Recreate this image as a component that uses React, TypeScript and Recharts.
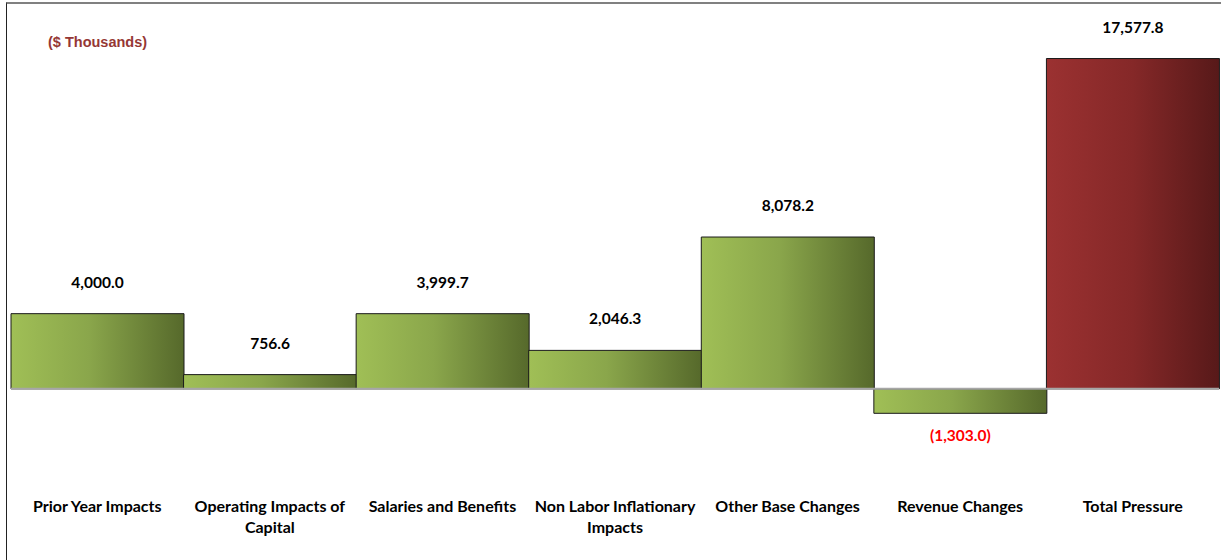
import { BarChart, Bar, XAxis, YAxis, Cell, LabelList, ReferenceLine, Text } from 'recharts'

// Presión presupuestaria por componente ($ miles)

const categories = [
  'Prior Year Impacts',
  'Operating Impacts of Capital',
  'Salaries and Benefits',
  'Non Labor Inflationary Impacts',
  'Other Base Changes',
  'Revenue Changes',
  'Total Pressure',
]
const values = [4000.0, 756.6, 3999.7, 2046.3, 8078.2, -1303.0, 17577.8]
const isTotal = [false, false, false, false, false, false, true]

const data = categories.map((name, i) => ({ name, value: values[i], total: isTotal[i] }))

const fmt = (v: number) => {
  const s = Math.abs(v).toLocaleString('en-US', { minimumFractionDigits: 1, maximumFractionDigits: 1 })
  return v < 0 ? `(${s})` : s
}

const FONT = 'Lato, "Open Sans", sans-serif'

function ValueLabel(props: any) {
  const { x, y, width, height, value } = props
  const top = Math.min(y, y + height)
  const bottom = Math.max(y, y + height)
  const neg = value < 0
  return (
    <text
      x={x + width / 2}
      y={neg ? bottom + 22 : top - 32}
      textAnchor="middle"
      dominantBaseline="central"
      fontFamily={FONT}
      fontWeight={700}
      fontSize={15.5}
      fill={neg ? '#ff0000' : '#000'}
    >
      {fmt(value)}
    </text>
  )
}

function CatTick(props: any) {
  const { x, payload } = props
  return (
    <Text
      x={x}
      y={501}
      width={172}
      textAnchor="middle"
      verticalAnchor="start"
      lineHeight="1.3em"
      fontFamily={FONT}
      fontWeight={700}
      fontSize={16}
      fill="#000"
    >
      {payload.value}
    </Text>
  )
}

export default function App() {
  return (
    <div style={{ position: 'absolute', left: 0, top: 0, width: 1221, height: 560, background: '#fff', overflow: 'hidden' }}>
      <div
        style={{
          position: 'absolute', left: 6, top: 2, width: 1230, height: 570,
          borderTop: '2px solid #808080', borderLeft: '1.5px solid #222', boxSizing: 'border-box',
        }}
      />
      <div
        style={{
          position: 'absolute', left: 48, top: 34, fontFamily: '"Liberation Sans", Arial, sans-serif',
          fontWeight: 700, fontSize: 14.5, color: '#953735',
        }}
      >
        ($ Thousands)
      </div>
      <BarChart
        width={1221}
        height={560}
        data={data}
        margin={{ top: 13, right: 2, left: 11, bottom: 0 }}
        barCategoryGap={0}
        style={{ position: 'absolute', left: 0, top: 0 }}
      >
        <defs>
          <linearGradient id="gradGreen" x1="0" y1="0" x2="1" y2="0">
            <stop offset="0%" stopColor="#a0bf56" />
            <stop offset="45%" stopColor="#8aa64b" />
            <stop offset="100%" stopColor="#56692b" />
          </linearGradient>
          <linearGradient id="gradRed" x1="0" y1="0" x2="1" y2="0">
            <stop offset="0%" stopColor="#9b3131" />
            <stop offset="50%" stopColor="#852828" />
            <stop offset="100%" stopColor="#571919" />
          </linearGradient>
        </defs>
        <XAxis
          dataKey="name"
          height={96}
          axisLine={false}
          tickLine={false}
          tickSize={0}
          tickMargin={0}
          interval={0}
          tick={<CatTick />}
        />
        <YAxis hide domain={[-4000, 20000]} allowDataOverflow />
        <Bar dataKey="value" stroke="#1a1a1a" strokeWidth={1} isAnimationActive={false}>
          {data.map((d, i) => (
            <Cell key={i} fill={d.total ? 'url(#gradRed)' : 'url(#gradGreen)'} />
          ))}
          <LabelList dataKey="value" content={<ValueLabel />} />
        </Bar>
        <ReferenceLine y={0} stroke="#a6a6a6" strokeWidth={2} />
      </BarChart>
    </div>
  )
}
